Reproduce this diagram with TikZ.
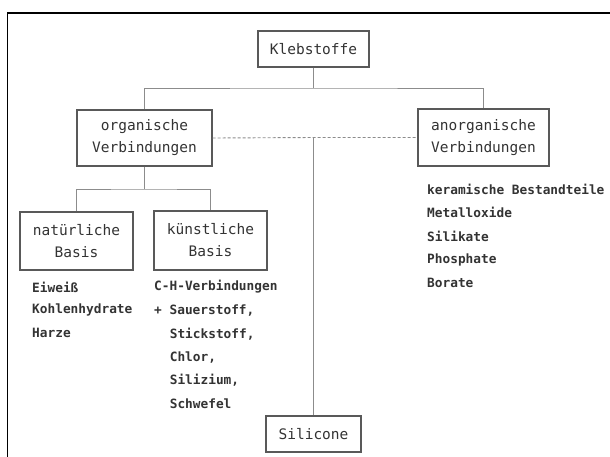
\documentclass[tikz,border=0pt]{standalone}
\usepackage{fontspec}
\setmonofont{DejaVu Sans Mono}
\usetikzlibrary{positioning}
\definecolor{boxgray}{gray}{0.35}
\definecolor{linegray}{gray}{0.55}
\begin{document}
\begin{tikzpicture}[x=1pt,y=-1pt,
  box/.style={draw=boxgray, line width=1.1pt, align=center, inner sep=0pt,
    font=\ttfamily\fontsize{14.5}{22}\selectfont, text=black!80},
  conn/.style={draw=linegray, line width=0.9pt},
  dashline/.style={draw=linegray, line width=0.9pt, dash pattern=on 3pt off 2pt},
  item/.style={anchor=west, inner sep=0pt, font=\ttfamily\bfseries\fontsize{12.8}{15}\selectfont, text=black!80}]
\useasboundingbox (0,0) rectangle (610,456);
\draw[line width=1.6pt] (7.5,470) -- (7.5,13) -- (625,13); %outer frame
% boxes
\node[box, minimum width=111, minimum height=36] (kleb) at (313.5,49) {Klebstoffe};
\node[box, minimum width=135, minimum height=56] (org) at (144.5,138) {organische\\Verbindungen};
\node[box, minimum width=131, minimum height=57] (anorg) at (483.5,137.5) {anorganische\\Verbindungen};
\node[box, minimum width=113, minimum height=58] (nat) at (76.5,241) {natürliche\\Basis};
\node[box, minimum width=113, minimum height=59] (kuen) at (210.5,240.5) {künstliche\\Basis};
\node[box, minimum width=95, minimum height=36] (sil) at (313.5,434) {Silicone};
% connectors
\coordinate (top) at (313.5,88);
\coordinate (mid) at (313.5,137.5);
\coordinate (split) at (144.5,189);
\draw[conn] (kleb) -- (top);
\draw[conn] (org.north) |- (top) -| (anorg.north);
\draw[dashline] (org.east) -- (mid) -- (anorg.west);
\draw[conn] (mid) -- (sil.north);
\draw[conn] (org.south) -- (split);
\draw[conn] (nat.north) |- (split) -| (kuen.north);
% lists, edit here for the texts
\foreach \n/\texto in {0/Eiweiß,1/Kohlenhydrate,2/Harze}
\node[item] at (32,287+23*\n) {\texto};
\node[item] (ch) at (154,287) {C-H-Verbindungen};
\node[item] at (154,310.4) {+ Sauerstoff,};
\foreach \n/\texto in {2/{Stickstoff,},3/{Chlor,},4/{Silizium,},5/Schwefel}
\node[item] at (169.6,287+23.4*\n) {\texto};
\foreach \n/\texto in {0/keramische Bestandteile,1/Metalloxide,2/Silikate,3/Phosphate,4/Borate}
\node[item] at (427,189+23.5*\n) {\texto};
\end{tikzpicture}
\end{document}
